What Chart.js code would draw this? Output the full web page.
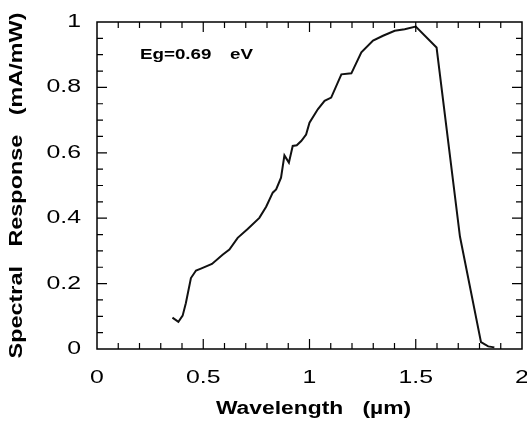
<!DOCTYPE html>
<html>
<head>
<meta charset="utf-8">
<script src="https://cdn.jsdelivr.net/npm/chart.js@4.4.1/dist/chart.umd.min.js"></script>
<style>
html,body{margin:0;padding:0;background:#fff;}
#wrap{width:527px;height:422px;position:relative;}
</style>
</head>
<body>
<div id="wrap"><canvas id="c" width="527" height="422"></canvas></div>
<script>
// Wavelength (µm)
const wavelength = [0.355,0.383,0.403,0.418,0.442,0.466,0.489,0.541,0.591,0.623,0.662,0.709,0.764,0.796,0.827,0.843,0.866,0.882,0.903,0.921,0.940,0.961,0.984,1.000,1.039,1.071,1.102,1.150,1.197,1.244,1.299,1.346,1.401,1.448,1.500,1.598,1.708,1.807,1.841,1.870];
// Spectral response (mA/mW)
const response   = [0.096,0.083,0.102,0.140,0.217,0.240,0.246,0.260,0.288,0.304,0.340,0.367,0.401,0.435,0.478,0.488,0.524,0.592,0.570,0.621,0.623,0.636,0.656,0.692,0.733,0.759,0.769,0.840,0.843,0.907,0.943,0.958,0.973,0.978,0.986,0.922,0.344,0.021,0.008,0.005];
const xTickLabels = ["0","0.5","1","1.5","2"];
const yTickLabels = ["0","0.2","0.4","0.6","0.8","1"];
const annotationParts = ["Eg=0.69", "eV"];
const xTitle = "Wavelength   (\u00b5m)";
const yTitle = "Spectral   Response   (mA/mW)";

const FONT = "'Liberation Sans', Arial, Helvetica, sans-serif";

// draw text horizontally stretched (the original typeface is an extended one)
function stretched(ctx, text, x, y, sx, align) {
  const w = ctx.measureText(text).width * sx;
  let left = x;
  if (align === 'center') left = x - w / 2;
  else if (align === 'right') left = x - w;
  ctx.save();
  ctx.translate(left, y);
  ctx.scale(sx, 1);
  ctx.textAlign = 'left';
  ctx.fillText(text, 0, 0);
  ctx.restore();
}

const frame = {
  id: 'frame',
  afterDraw(chart) {
    const ctx = chart.ctx, a = chart.chartArea;
    const xs = chart.scales.x, ys = chart.scales.y;
    ctx.save();
    ctx.strokeStyle = '#000';
    ctx.lineWidth = 1.5;
    ctx.strokeRect(a.left, a.top, a.right - a.left, a.bottom - a.top);
    ctx.lineWidth = 1.2;
    // x ticks every 0.1, major every 0.5
    for (let i = 1; i < 20; i++) {
      const px = xs.getPixelForValue(i / 10);
      const len = (i % 5 === 0) ? 10 : 6;
      ctx.beginPath();
      ctx.moveTo(px, a.bottom); ctx.lineTo(px, a.bottom - len);
      ctx.moveTo(px, a.top); ctx.lineTo(px, a.top + len);
      ctx.stroke();
    }
    // y ticks every 0.05, major every 0.2
    for (let i = 1; i < 20; i++) {
      const py = ys.getPixelForValue(i / 20);
      const len = (i % 4 === 0) ? 10 : 6;
      ctx.beginPath();
      ctx.moveTo(a.left, py); ctx.lineTo(a.left + len, py);
      ctx.moveTo(a.right, py); ctx.lineTo(a.right - len, py);
      ctx.stroke();
    }
    ctx.fillStyle = '#000';
    ctx.textBaseline = 'middle';
    // tick labels
    ctx.font = "18px " + FONT;
    xTickLabels.forEach(t => {
      stretched(ctx, t, xs.getPixelForValue(parseFloat(t)), a.bottom + 29, 1.38, 'center');
    });
    yTickLabels.forEach(t => {
      stretched(ctx, t, a.left - 16, ys.getPixelForValue(parseFloat(t)), 1.38, 'right');
    });
    // annotation
    ctx.font = "bold 14px " + FONT;
    stretched(ctx, annotationParts[0], 140, 55, 1.34, 'left');
    stretched(ctx, annotationParts[1], 230, 55, 1.34, 'left');
    // axis titles
    ctx.font = "bold 18px " + FONT;
    const cx = (a.left + a.right) / 2, cy = (a.top + a.bottom) / 2;
    stretched(ctx, xTitle, cx + 4, 409, 1.27, 'center');
    ctx.translate(17, cy);
    ctx.rotate(-Math.PI / 2);
    stretched(ctx, yTitle, 0, 0, 1.3, 'center');
    ctx.restore();
  }
};

new Chart(document.getElementById('c'), {
  type: 'line',
  data: {
    datasets: [{
      data: wavelength.map((w, i) => ({x: w, y: response[i]})),
      borderColor: '#111',
      borderWidth: 2,
      pointRadius: 0,
      tension: 0,
      fill: false
    }]
  },
  options: {
    responsive: false,
    animation: false,
    layout: {padding: {top: 22, right: 5, left: 0, bottom: 0}},
    plugins: {legend: {display: false}, tooltip: {enabled: false}},
    scales: {
      x: {
        type: 'linear', min: 0, max: 2,
        grid: {display: false}, border: {display: false},
        ticks: {display: false},
        afterFit(s) { s.height = 73; s.paddingLeft = 0; s.paddingRight = 0; }
      },
      y: {
        type: 'linear', min: 0, max: 1,
        grid: {display: false}, border: {display: false},
        ticks: {display: false},
        afterFit(s) { s.width = 97; s.paddingTop = 0; s.paddingBottom = 0; }
      }
    }
  },
  plugins: [frame]
});
</script>
</body>
</html>
